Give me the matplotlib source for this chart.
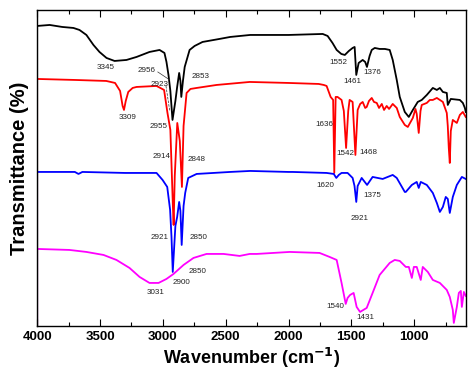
import matplotlib
matplotlib.use("Agg")
import matplotlib.pyplot as plt
from matplotlib.ticker import MultipleLocator

plt.rcParams['font.family'] = ['Liberation Sans', 'DejaVu Sans']

# ---- data (wavenumber in cm-1, transmittance in arbitrary offset units) ----
wn_black = [4000, 4000, 3900, 3800, 3711, 3663, 3608, 3552, 3504, 3448, 3384, 3289, 3209, 3106, 3026, 2987,
            2971, 2955, 2940, 2923, 2900, 2886, 2870, 2860, 2853, 2840, 2826, 2787, 2747, 2684, 2550, 2464,
            2305, 2000, 1728, 1689, 1650, 1617, 1580, 1552, 1520, 1490, 1474, 1461, 1442, 1410, 1390, 1376,
            1355, 1338, 1314, 1275, 1233, 1195, 1171, 1139, 1115, 1075, 1043, 1011, 972, 940, 900, 852,
            820, 796, 772, 741, 733, 709, 637, 613, 597, 590]
t_black = [0, 300, 301, 299, 298, 296, 291, 281, 274, 268, 265, 266, 269, 274, 276, 273,
           264, 251, 235, 206, 225, 239, 253, 245, 229, 245, 259, 276, 280, 284, 287, 289,
           291, 291, 292, 290, 283, 276, 272, 271, 275, 278, 279, 251, 263, 266, 264, 259,
           270, 276, 278, 277, 277, 276, 266, 246, 229, 214, 209, 216, 224, 226, 231, 238,
           236, 238, 234, 233, 221, 227, 226, 223, 218, 214]

wn_red = [4000, 4000, 3700, 3450, 3380, 3340, 3320, 3309, 3295, 3275, 3240, 3209, 3050, 2990, 2963, 2940,
          2920, 2914, 2905, 2885, 2865, 2848, 2835, 2811, 2780, 2731, 2572, 2309, 2000, 1760, 1720, 1697,
          1665, 1645, 1636, 1625, 1610, 1578, 1560, 1542, 1525, 1514, 1490, 1468, 1450, 1430, 1410, 1390,
          1378, 1360, 1338, 1320, 1298, 1280, 1258, 1240, 1219, 1200, 1171, 1139, 1115, 1075, 1051, 1011,
          990, 980, 964, 950, 940, 900, 876, 852, 820, 796, 772, 741, 733, 725, 717, 709,
          693, 661, 637, 613, 590]
t_red = [0, 247, 246, 245, 243, 235, 220, 216, 225, 234, 238, 239, 240, 236, 213, 196,
         120, 101, 150, 203, 185, 139, 200, 233, 237, 238, 241, 244, 243, 242, 241, 240,
         229, 226, 153, 229, 229, 226, 215, 178, 215, 226, 224, 171, 216, 222, 224, 218,
         219, 225, 228, 224, 223, 218, 222, 216, 220, 217, 222, 218, 209, 201, 199, 208,
         217, 212, 193, 215, 221, 223, 226, 226, 228, 226, 224, 213, 200, 178, 163, 195,
         206, 203, 211, 214, 209]

wn_blue = [4000, 4000, 3800, 3700, 3671, 3640, 3300, 3050, 3002, 2965, 2942, 2931, 2921, 2900, 2886, 2870,
           2860, 2850, 2835, 2822, 2798, 2731, 2464, 2305, 2000, 1968, 1697, 1640, 1620, 1600, 1578, 1530,
           1490, 1475, 1461, 1450, 1418, 1375, 1331, 1251, 1171, 1139, 1075, 1067, 1019, 980, 964, 948,
           900, 852, 820, 796, 772, 749, 733, 717, 693, 661, 621, 590]
t_blue = [0, 154, 154, 154, 152, 154, 153, 153, 146, 139, 116, 89, 54, 100, 109, 124,
          115, 81, 120, 133, 148, 152, 154, 155, 154, 154, 153, 152, 148, 151, 153, 153,
          148, 140, 124, 140, 148, 141, 149, 147, 151, 148, 134, 134, 141, 144, 138, 144,
          141, 133, 123, 114, 119, 129, 127, 113, 129, 141, 149, 147]

wn_mag = [4000, 4000, 3743, 3608, 3472, 3369, 3265, 3185, 3106, 3034, 2971, 2915, 2835, 2756, 2652, 2517,
          2389, 2309, 2253, 1991, 1753, 1673, 1617, 1578, 1545, 1530, 1510, 1482, 1458, 1431, 1378, 1331,
          1275, 1195, 1155, 1115, 1067, 1043, 1019, 1003, 980, 948, 932, 892, 852, 796, 741, 717,
          693, 685, 661, 645, 629, 621, 605, 590]
t_mag = [0, 77, 76, 74, 71, 66, 58, 49, 43, 43, 47, 52, 61, 68, 72, 72,
         70, 72, 72, 74, 73, 69, 66, 43, 22, 28, 31, 33, 19, 14, 18, 33,
         51, 63, 66, 65, 59, 59, 48, 59, 59, 46, 59, 54, 46, 43, 36, 29,
         16, 3, 19, 33, 35, 19, 34, 30]

# peak labels: (text, x, y)
label_text = ['3345', '2956', '2923', '2853', '3309', '2955', '2914', '2848',
              '1552', '1461', '1376', '1636', '1542', '1468',
              '2921', '2850', '1620', '1375', '2921',
              '3031', '2900', '2850', '1540', '1431']
label_x = [3456, 3130, 3026, 2700, 3281, 3034, 3010, 2732,
           1601, 1490, 1330, 1713, 1545, 1362,
           3026, 2716, 1705, 1330, 1434,
           3058, 2851, 2724, 1625, 1386]
label_y = [258, 255, 241, 249, 208, 199, 169, 166,
           263, 244, 253, 201, 172, 173,
           88, 88, 140, 130, 107,
           33, 43, 54, 19, 8]

xticks = [4000, 3500, 3000, 2500, 2000, 1500, 1000]

fig = plt.figure(figsize=(4.76, 3.83), dpi=100)
ax = fig.add_axes([0.078, 0.149, 0.901, 0.825])

lw = 1.3
ax.plot(wn_black, t_black, color='black', lw=lw)
ax.plot(wn_red, t_red, color='#ff0000', lw=lw)
ax.plot(wn_blue, t_blue, color='#0000ff', lw=lw)
ax.plot(wn_mag, t_mag, color='#ff00ff', lw=lw)

for s, x, y in zip(label_text, label_x, label_y):
    ax.text(x, y, s, fontsize=5.8, ha='center', va='center', color='#222222')

# leader lines for 2956 / 2923
ax.plot([3040, 2945], [254, 246], color='#333333', lw=0.5)
ax.plot([2975, 2945], [240, 215], color='#333333', lw=0.5, ls='--')

ax.set_xlim(4000, 588)
ax.set_ylim(0, 316)
ax.set_xticks(xticks)
ax.set_xticklabels([str(v) for v in xticks], fontweight='bold', fontsize=9.5)
ax.xaxis.set_minor_locator(MultipleLocator(250))
ax.tick_params(axis='x', which='both', direction='in', top=True, bottom=True, pad=4)
ax.tick_params(axis='x', which='major', length=5, width=0.8)
ax.tick_params(axis='x', which='minor', length=3, width=0.8)
ax.set_yticks([])
for sp in ax.spines.values():
    sp.set_linewidth(1.0)

ax.set_xlabel('Wavenumber (cm$^{\\mathbf{-1}}$)', fontsize=13, fontweight='bold', labelpad=2)
ax.set_ylabel('Transmittance (%)', fontsize=14.5, fontweight='bold', labelpad=6)

fig.savefig('out.png', dpi=100)
